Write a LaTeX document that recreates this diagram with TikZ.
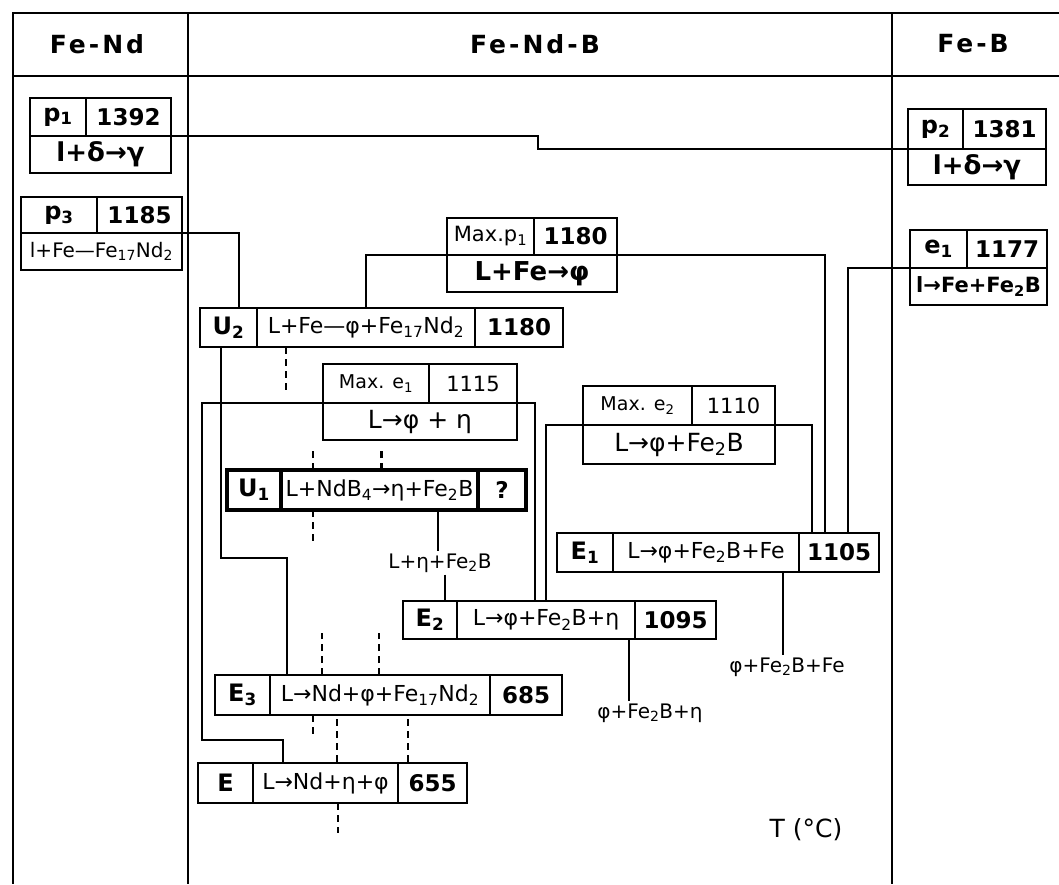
\documentclass[tikz,border=0pt]{standalone}
\usepackage{fontspec}
\setmainfont{DejaVu Sans}
\usetikzlibrary{positioning}
\newcommand{\hdsize}{\fontsize{25}{30}\selectfont\bfseries\addfontfeature{LetterSpace=12}}
\newcommand{\numsize}{\fontsize{23}{27}\selectfont\bfseries}
\newcommand{\presize}{\fontsize{24}{28}\selectfont\bfseries}
\newcommand{\rxsize}{\fontsize{22}{26}\selectfont}
\newcommand{\bigrxsize}{\fontsize{26}{30}\selectfont\bfseries}
\newcommand{\midrxsize}{\fontsize{25}{29}\selectfont}
\newcommand{\maxsize}{\fontsize{19}{23}\selectfont}
\newcommand{\sub}[1]{\textsubscript{#1}}

\begin{document}
\begin{tikzpicture}[x=1pt, y=-1pt,
        cell/.style={draw, line width=2.2pt, outer sep=0pt, inner sep=0pt, minimum height=38pt, font=\rxsize},
        num/.style={font=\numsize},
        pre/.style={font=\presize},
        bigrx/.style={font=\bigrxsize},
        midrx/.style={font=\midrxsize},
        mx/.style={font=\maxsize},
        link/.style={line width=2pt},
        dlink/.style={line width=2.6pt, dash pattern=on 7pt off 5pt},
        phase/.style={inner sep=2pt, font=\fontsize{20}{24}\selectfont},
        frame/.style={line width=2pt}]
      \useasboundingbox[fill=white] (0,0) rectangle (1059,884);
      % frame and headings
      \draw[frame] (1059,13) -- (13,13) -- (13,884);
      \draw[frame] (13,76) -- (1059,76);
      \draw[frame] (188,13) -- (188,884);
      \draw[frame] (892,13) -- (892,884);
      \node[font=\hdsize] (hdFeNd) at (97,44) {Fe-Nd};
      \node[font=\hdsize] (hdFeNdB) at (535,44) {Fe-Nd-B};
      \node[font=\hdsize] (hdFeB) at (973,44) {Fe-B};
      % binary invariants
      \node[cell, pre, minimum width=56pt, anchor=north west] (p1a) at (30,98) {p\sub{1}};
      \node[cell, num, minimum width=85pt, right=0pt of p1a] (p1b) {1392};
      \node[cell, bigrx, minimum width=141pt, minimum height=37pt, anchor=north west] (p1c) at (p1a.south west) {l+δ→γ};
      \node[cell, pre, minimum width=55pt, minimum height=40pt, anchor=north west] (p2a) at (908,109) {p\sub{2}};
      \node[cell, num, minimum width=83pt, minimum height=40pt, right=0pt of p2a] (p2b) {1381};
      \node[cell, bigrx, minimum width=138pt, minimum height=36pt, anchor=north west] (p2c) at (p2a.south west) {l+δ→γ};
      \node[cell, pre, minimum width=76pt, minimum height=36pt, anchor=north west] (p3a) at (21,197) {p\sub{3}};
      \node[cell, num, minimum width=85pt, minimum height=36pt, right=0pt of p3a] (p3b) {1185};
      \node[cell, font=\fontsize{20}{24}\selectfont, minimum width=161pt, minimum height=37pt, anchor=north west] (p3c) at (p3a.south west) {l+Fe—Fe\sub{17}Nd\sub{2}};
      \node[cell, pre, minimum width=57pt, anchor=north west] (e1a) at (910,230) {e\sub{1}};
      \node[cell, num, minimum width=80pt, right=0pt of e1a] (e1b) {1177};
      \node[cell, font=\fontsize{21}{25}\selectfont\bfseries, minimum width=137pt, minimum height=37pt, anchor=north west] (e1c) at (e1a.south west) {l→Fe+Fe\sub{2}B};
      % ternary maxima
      \node[cell, font=\fontsize{21}{25}\selectfont, minimum width=87pt, minimum height=37pt, anchor=north west] (Mp1a) at (447,218) {Max.p\sub{1}};
      \node[cell, num, minimum width=83pt, minimum height=37pt, right=0pt of Mp1a] (Mp1b) {1180};
      \node[cell, bigrx, minimum width=170pt, minimum height=37pt, anchor=north west] (Mp1c) at (Mp1a.south west) {L+Fe→φ};
      \node[cell, mx, minimum width=106pt, minimum height=39pt, anchor=north west] (Me1a) at (323,364) {Max. e\sub{1}};
      \node[cell, font=\fontsize{21}{25}\selectfont, minimum width=88pt, minimum height=39pt, right=0pt of Me1a] (Me1b) {1115};
      \node[cell, midrx, minimum width=194pt, minimum height=37pt, anchor=north west] (Me1c) at (Me1a.south west) {L→φ + η};
      \node[cell, mx, minimum width=109pt, minimum height=39pt, anchor=north west] (Me2a) at (583,386) {Max. e\sub{2}};
      \node[cell, font=\fontsize{21}{25}\selectfont, minimum width=83pt, minimum height=39pt, right=0pt of Me2a] (Me2b) {1110};
      \node[cell, midrx, minimum width=192pt, minimum height=39pt, anchor=north west] (Me2c) at (Me2a.south west) {L→φ+Fe\sub{2}B};
      % ternary four-phase reactions
      \node[cell, pre, minimum width=57pt, minimum height=39pt, anchor=north west] (U2a) at (200,308) {U\sub{2}};
      \node[cell, minimum width=218pt, minimum height=39pt, right=0pt of U2a] (U2b) {L+Fe—φ+Fe\sub{17}Nd\sub{2}};
      \node[cell, num, minimum width=88pt, minimum height=39pt, right=0pt of U2b] (U2c) {1180};
      \node[cell, line width=3.2pt, pre, minimum width=54pt, minimum height=40pt, anchor=north west] (U1a) at (227,470) {U\sub{1}};
      \node[cell, line width=3.2pt, minimum width=197pt, minimum height=40pt, right=0pt of U1a] (U1b) {L+NdB\sub{4}→η+Fe\sub{2}B};
      \node[cell, line width=3.2pt, num, minimum width=48pt, minimum height=40pt, right=0pt of U1b] (U1c) {?};
      \node[cell, pre, minimum width=56pt, minimum height=39pt, anchor=north west] (E1a) at (557,533) {E\sub{1}};
      \node[cell, minimum width=186pt, minimum height=39pt, right=0pt of E1a] (E1b) {L→φ+Fe\sub{2}B+Fe};
      \node[cell, num, minimum width=80pt, minimum height=39pt, right=0pt of E1b] (E1c) {1105};
      \node[cell, pre, minimum width=54pt, anchor=north west] (E2a) at (403,601) {E\sub{2}};
      \node[cell, minimum width=178pt, right=0pt of E2a] (E2b) {L→φ+Fe\sub{2}B+η};
      \node[cell, num, minimum width=81pt, right=0pt of E2b] (E2c) {1095};
      \node[cell, pre, minimum width=55pt, minimum height=40pt, anchor=north west] (E3a) at (215,675) {E\sub{3}};
      \node[cell, minimum width=220pt, minimum height=40pt, right=0pt of E3a] (E3b) {L→Nd+φ+Fe\sub{17}Nd\sub{2}};
      \node[cell, num, minimum width=72pt, minimum height=40pt, right=0pt of E3b] (E3c) {685};
      \node[cell, pre, minimum width=55pt, minimum height=40pt, anchor=north west] (Ea) at (198,763) {E};
      \node[cell, minimum width=145pt, minimum height=40pt, right=0pt of Ea] (Eb) {L→Nd+η+φ};
      \node[cell, num, minimum width=69pt, minimum height=40pt, right=0pt of Eb] (Ec) {655};
      % three-phase fields
      \node[phase] (ph1) at (440,563) {L+η+Fe\sub{2}B};
      \node[phase] (ph2) at (787,667) {φ+Fe\sub{2}B+Fe};
      \node[phase] (ph3) at (650,713) {φ+Fe\sub{2}B+η};
      \node[font=\fontsize{25}{29}\selectfont] (tc) at (806,830) {T (°C)};
      % solid connectors
      \draw[link] (p1b.south east) -- ++(367,0) |- (p2a.south west);
      \draw[link] (p3b.south east) -| ([xshift=10pt]U2a.north);
      \draw[link] (Mp1a.south west) -| (U2b.north);
      \draw[link] (Mp1b.south east) -| ([xshift=-14pt]E1c.north);
      \draw[link] (e1a.south west) -| ([xshift=9pt]E1c.north);
      \draw[link] (Me2b.south east) -| ([xshift=-27pt]E1c.north);
      \draw[link] (Me2a.south west) -| (E2b.north);
      \draw[link] (Me1b.south east) -| ([xshift=-11pt]E2b.north);
      \draw[link] (Me1a.south west) -- ++(-121,0) -- ++(0,337) -| ([xshift=30pt]Ea.north east);
      \draw[link] ([xshift=-8pt]U2a.south) -- ++(0,211) -| ([xshift=17pt]E3a.north east);
      \draw[link] ([xshift=58pt]U1b.south) -- ([xshift=58pt]U1b.south |- ph1.north);
      \draw[link] ([xshift=5pt]ph1.south) -- ([xshift=5pt]ph1.south |- E2a.north);
      \draw[link] ([xshift=-16pt]E1b.south east) -- ([xshift=-16pt]E1b.south east |- ph2.north);
      \draw[link] ([xshift=-6pt]E2b.south east) -- ([xshift=-6pt]E2b.south east |- ph3.north);
      % dashed connectors
      \draw[dlink] ([xshift=29pt]U2b.south west) -- ++(0,46);
      \draw[dlink] ([xshift=32pt]U1b.north west) -- ++(0,-20);
      \draw[dlink] ([xshift=2pt]U1b.north) -- ++(0,-20);
      \draw[dlink] ([xshift=32pt]U1b.south west) -- ++(0,33);
      \draw[dlink] ([xshift=52pt]E3b.north west) -- ++(0,-42);
      \draw[dlink] ([xshift=109pt]E3b.north west) -- ++(0,-42);
      \draw[dlink] ([xshift=43pt]E3b.south west) -- ++(0,22);
      \draw[dlink, dash phase=8pt] ([xshift=67pt]E3b.south west) -- ([xshift=84pt]Eb.north west);
      \draw[dlink, dash phase=8pt] ([xshift=138pt]E3b.south west) -- ([xshift=10pt]Ec.north west);
      \draw[dlink] ([xshift=85pt]Eb.south west) -- ++(0,30);
      \end{tikzpicture}
\end{document}
